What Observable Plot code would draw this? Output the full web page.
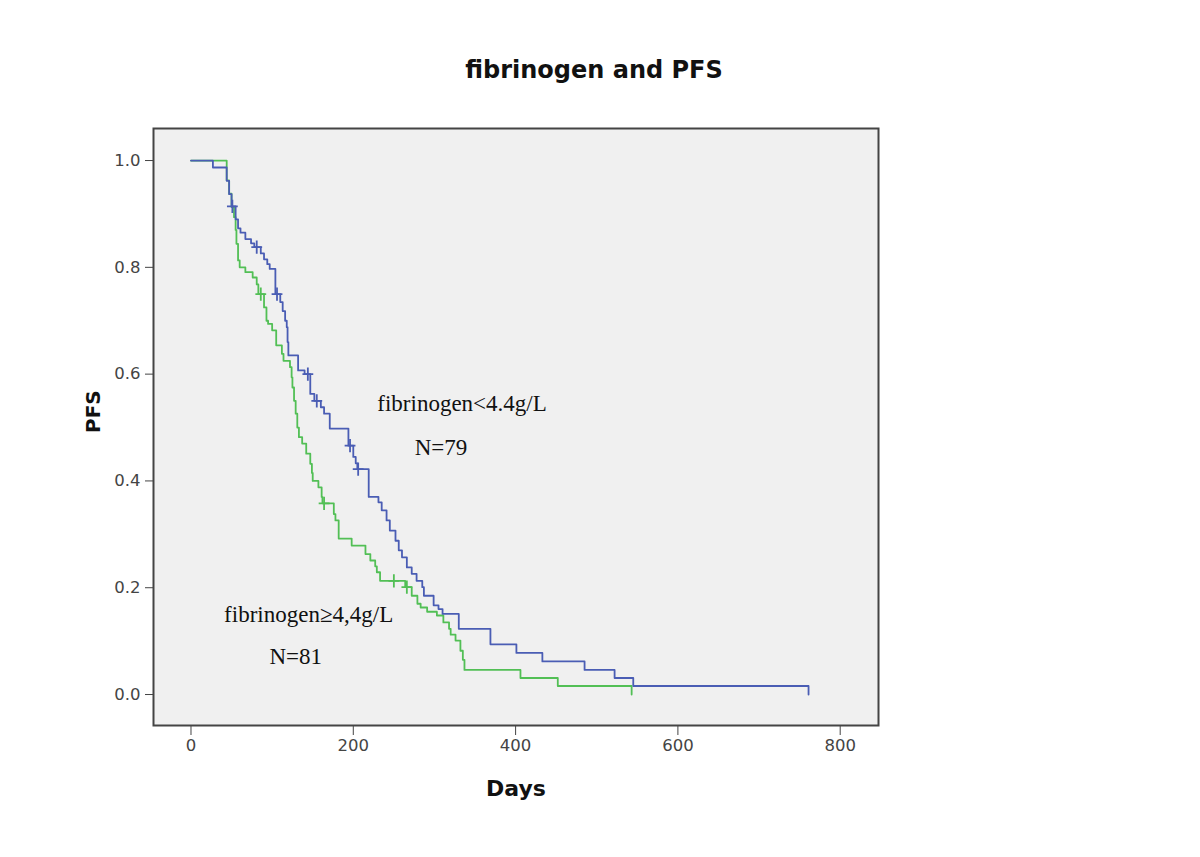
<!DOCTYPE html>
<html>
<head>
<meta charset="utf-8">
<script src="https://cdn.jsdelivr.net/npm/d3@7"></script>
<script src="https://cdn.jsdelivr.net/npm/@observablehq/plot@0.6"></script>
<style>
  body { margin: 0; background: #ffffff; }
  #title { height: 44px; padding-top: 56px; text-align: center; padding-right: 12px;
           font-family: "DejaVu Sans", sans-serif; font-weight: bold; font-size: 24px; line-height: 28px; color: #111; }
</style>
</head>
<body>
<div id="title">fibrinogen and PFS</div>
<div id="chart"></div>
<script>
// fibrinogen < 4.4 g/L (N=79) — Kaplan–Meier steps
const lowDays = [0, 27, 44, 47, 50, 55, 58, 61, 67, 74, 78, 86, 90, 94, 97, 104, 110, 113, 116, 118, 119, 120, 132, 140, 147, 152, 160, 164, 171, 194, 200, 203, 205, 219, 231, 235, 241, 245, 252, 256, 260, 266, 272, 278, 285, 287, 299, 305, 310, 330, 369, 401, 433, 485, 522, 545, 761];
const lowSurv = [1, 0.987, 0.962, 0.937, 0.914, 0.89, 0.873, 0.865, 0.853, 0.845, 0.838, 0.826, 0.815, 0.806, 0.797, 0.75, 0.735, 0.718, 0.70, 0.688, 0.66, 0.635, 0.607, 0.60, 0.563, 0.55, 0.538, 0.526, 0.498, 0.466, 0.445, 0.433, 0.422, 0.37, 0.36, 0.345, 0.326, 0.307, 0.288, 0.27, 0.257, 0.238, 0.226, 0.213, 0.201, 0.185, 0.167, 0.16, 0.151, 0.123, 0.094, 0.078, 0.062, 0.046, 0.031, 0.016, 0];
const lowCensorDays = [51, 81, 106, 144, 155, 196, 206];
const lowCensorSurv = [0.914, 0.838, 0.75, 0.60, 0.55, 0.466, 0.422];

// fibrinogen >= 4.4 g/L (N=81)
const highDays = [0, 44, 47, 50, 53, 55, 56, 58, 60, 67, 76, 81, 83, 90, 93, 95, 100, 105, 112, 114, 122, 124, 125, 127, 129, 131, 133, 137, 142, 147, 149, 150, 157, 161, 162, 176, 178, 182, 198, 215, 221, 227, 229, 233, 264, 272, 279, 283, 291, 303, 311, 318, 320, 326, 332, 335, 337, 406, 452, 543];
const highSurv = [1, 0.963, 0.938, 0.913, 0.894, 0.87, 0.844, 0.813, 0.80, 0.791, 0.781, 0.768, 0.75, 0.725, 0.70, 0.694, 0.682, 0.654, 0.638, 0.625, 0.613, 0.594, 0.575, 0.55, 0.526, 0.50, 0.482, 0.47, 0.451, 0.432, 0.415, 0.40, 0.388, 0.37, 0.358, 0.338, 0.326, 0.292, 0.279, 0.263, 0.251, 0.24, 0.229, 0.213, 0.201, 0.185, 0.17, 0.163, 0.155, 0.148, 0.135, 0.123, 0.112, 0.101, 0.082, 0.065, 0.046, 0.031, 0.016, 0];
const highCensorDays = [86, 164, 250, 266];
const highCensorSurv = [0.75, 0.358, 0.213, 0.201];

const xTicks = [0, 200, 400, 600, 800];
const yTicks = [0, 0.2, 0.4, 0.6, 0.8, 1.0];

const groupLabels = ["fibrinogen<4.4g/L", "N=79", "fibrinogen\u22654,4g/L", "N=81"];
const labelDays = [334, 308, 145, 129];
const labelSurv = [0.545, 0.4625, 0.15, 0.071];

const blue = "#4a5db4";
const green = "#52bf55";

const low = lowDays.map((d, i) => ({day: d, s: lowSurv[i]}));
const high = highDays.map((d, i) => ({day: d, s: highSurv[i]}));
const lowC = lowCensorDays.map((d, i) => ({day: d, s: lowCensorSurv[i]}));
const highC = highCensorDays.map((d, i) => ({day: d, s: highCensorSurv[i]}));
const labels = groupLabels.map((t, i) => ({t, day: labelDays[i], s: labelSurv[i]}));

const plusSymbol = {
  draw(context, size) {
    const r = Math.sqrt(size / Math.PI);
    context.moveTo(-r * 0.9, 0); context.lineTo(r * 0.9, 0);
    context.moveTo(0, -r * 1.1); context.lineTo(0, r * 1.1);
  }
};

const chart = Plot.plot({
  width: 1200,
  height: 757,
  marginLeft: 153,
  marginRight: 322,
  marginTop: 28,
  marginBottom: 132,
  style: {background: "transparent", fontFamily: "DejaVu Sans, sans-serif", fontSize: "16.5px", color: "#444"},
  x: {domain: [-46.2, 847.2], ticks: xTicks, tickSize: 10, tickPadding: 4, label: null, tickFormat: d => String(d)},
  y: {domain: [-0.058, 1.06], ticks: yTicks, tickSize: 8, tickPadding: 5, label: null, tickFormat: d3.format(".1f")},
  marks: [
    Plot.frame({fill: "#f0f0f0", stroke: "none"}),
    Plot.line(high, {x: "day", y: "s", curve: "step-after", stroke: green, strokeWidth: 1.8}),
    Plot.line(low, {x: "day", y: "s", curve: "step-after", stroke: blue, strokeWidth: 1.8}),
    Plot.dot(highC, {x: "day", y: "s", symbol: plusSymbol, r: 6, stroke: green, fill: "none", strokeWidth: 1.8}),
    Plot.dot(lowC, {x: "day", y: "s", symbol: plusSymbol, r: 6, stroke: blue, fill: "none", strokeWidth: 1.8}),
    Plot.text(labels, {x: "day", y: "s", text: "t", fontFamily: "Liberation Serif, serif", fontSize: 23, fill: "#111", textAnchor: "middle"}),
    Plot.frame({stroke: "#444", strokeWidth: 2}),
    Plot.text(["Days"], {frameAnchor: "bottom", dy: 70, fontFamily: "DejaVu Sans, sans-serif", fontWeight: "bold", fontSize: 22, fill: "#111"}),
    Plot.text(["PFS"], {frameAnchor: "left", dx: -60, dy: 6, rotate: -90, fontFamily: "DejaVu Sans, sans-serif", fontWeight: "bold", fontSize: 20, fill: "#111"})
  ]
});
document.getElementById("chart").appendChild(chart);
</script>
</body>
</html>
